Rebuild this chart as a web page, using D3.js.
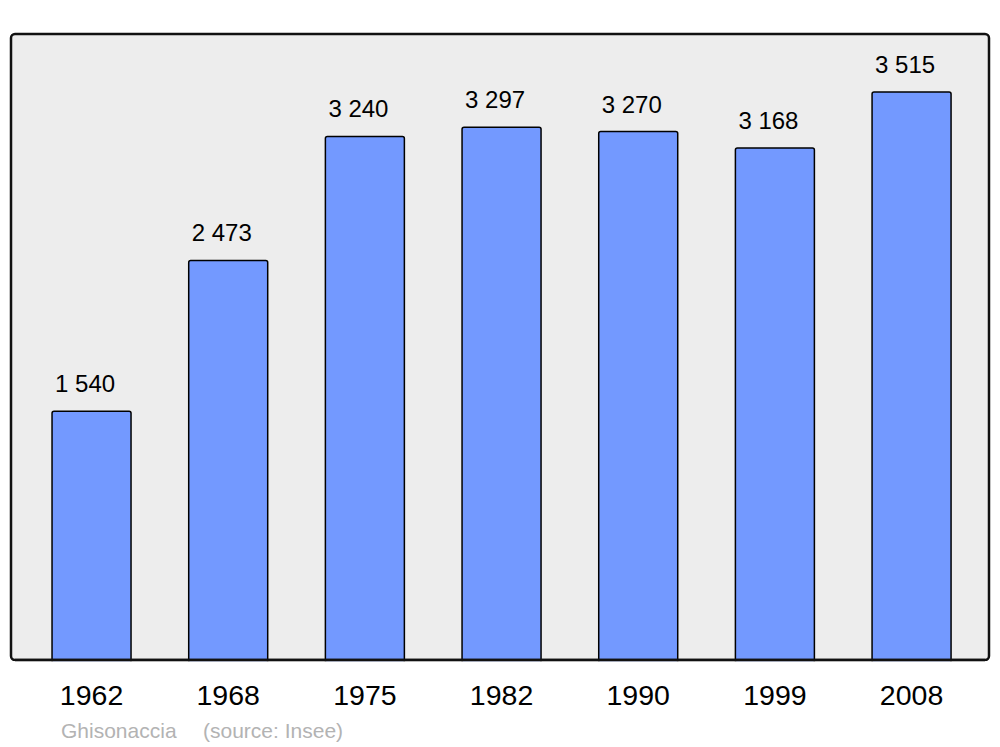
<!DOCTYPE html>
<html>
<head>
<meta charset="utf-8">
<script src="https://cdn.jsdelivr.net/npm/d3@7"></script>
<style>
  html, body { margin: 0; padding: 0; background: #fff; }
  svg { display: block; font-family: "Liberation Sans", Arial, sans-serif; }
</style>
</head>
<body>
<svg id="chart" width="1000" height="747"></svg>
<script>
const years = ["1962", "1968", "1975", "1982", "1990", "1999", "2008"];
const population = [1540, 2473, 3240, 3297, 3270, 3168, 3515];
const valueLabels = ["1 540", "2 473", "3 240", "3 297", "3 270", "3 168", "3 515"];
const placeName = "Ghisonaccia";
const sourceName = "(source: Insee)";

const svg = d3.select("#chart");

const frame = { x0: 11, x1: 989, y0: 34, y1: 660 };

const x = d3.scaleBand()
  .domain(years)
  .range([23.2, 979.9])
  .paddingInner(0.422)
  .paddingOuter(0.211);

const y = d3.scaleLinear()
  .domain([0, 3874])
  .range([frame.y1, frame.y0]);

// plot frame
svg.append("rect")
  .attr("x", frame.x0)
  .attr("y", frame.y0)
  .attr("width", frame.x1 - frame.x0)
  .attr("height", frame.y1 - frame.y0)
  .attr("rx", 4)
  .attr("fill", "#ededed")
  .attr("stroke", "none");

// bars
svg.append("g").selectAll("rect")
  .data(population)
  .join("rect")
  .attr("x", (d, i) => x(years[i]))
  .attr("y", d => y(d))
  .attr("width", x.bandwidth())
  .attr("height", d => y(0) - y(d) + 3)
  .attr("rx", 2)
  .attr("fill", "#7399ff")
  .attr("stroke", "#000")
  .attr("stroke-width", 1.5);

// frame border on top
svg.append("rect")
  .attr("x", frame.x0)
  .attr("y", frame.y0)
  .attr("width", frame.x1 - frame.x0)
  .attr("height", frame.y1 - frame.y0)
  .attr("rx", 4)
  .attr("fill", "none")
  .attr("stroke", "#111")
  .attr("stroke-width", 2.5);

// cover overflow of bars below baseline
svg.append("rect")
  .attr("x", 0).attr("y", frame.y1 + 1.25)
  .attr("width", 1000).attr("height", 10)
  .attr("fill", "#fff");
svg.append("line")
  .attr("x1", frame.x0 + 4).attr("x2", frame.x1 - 4)
  .attr("y1", frame.y1).attr("y2", frame.y1)
  .attr("stroke", "#111").attr("stroke-width", 2.5);

// value labels
svg.append("g").selectAll("text")
  .data(population)
  .join("text")
  .attr("x", (d, i) => x(years[i]) + 3)
  .attr("y", d => y(d) - 19)
  .attr("font-size", 24)
  .attr("fill", "#000")
  .text((d, i) => valueLabels[i]);

// year labels (x axis)
const xAxis = d3.axisBottom(x).tickSize(0).tickPadding(0);
const gx = svg.append("g")
  .attr("transform", `translate(0, ${frame.y1})`)
  .call(xAxis);
gx.select(".domain").remove();
gx.selectAll("text")
  .attr("font-size", 28.5)
  .attr("font-family", "Liberation Sans, Arial, sans-serif")
  .attr("fill", "#000")
  .attr("dy", null)
  .attr("y", 44.5);

// source
const src = svg.append("text")
  .attr("y", 737.5)
  .attr("font-size", 21)
  .attr("fill", "#b3b3b3");
src.append("tspan").attr("x", 61).text(placeName);
src.append("tspan").attr("x", 203).text(sourceName);
</script>
</body>
</html>
